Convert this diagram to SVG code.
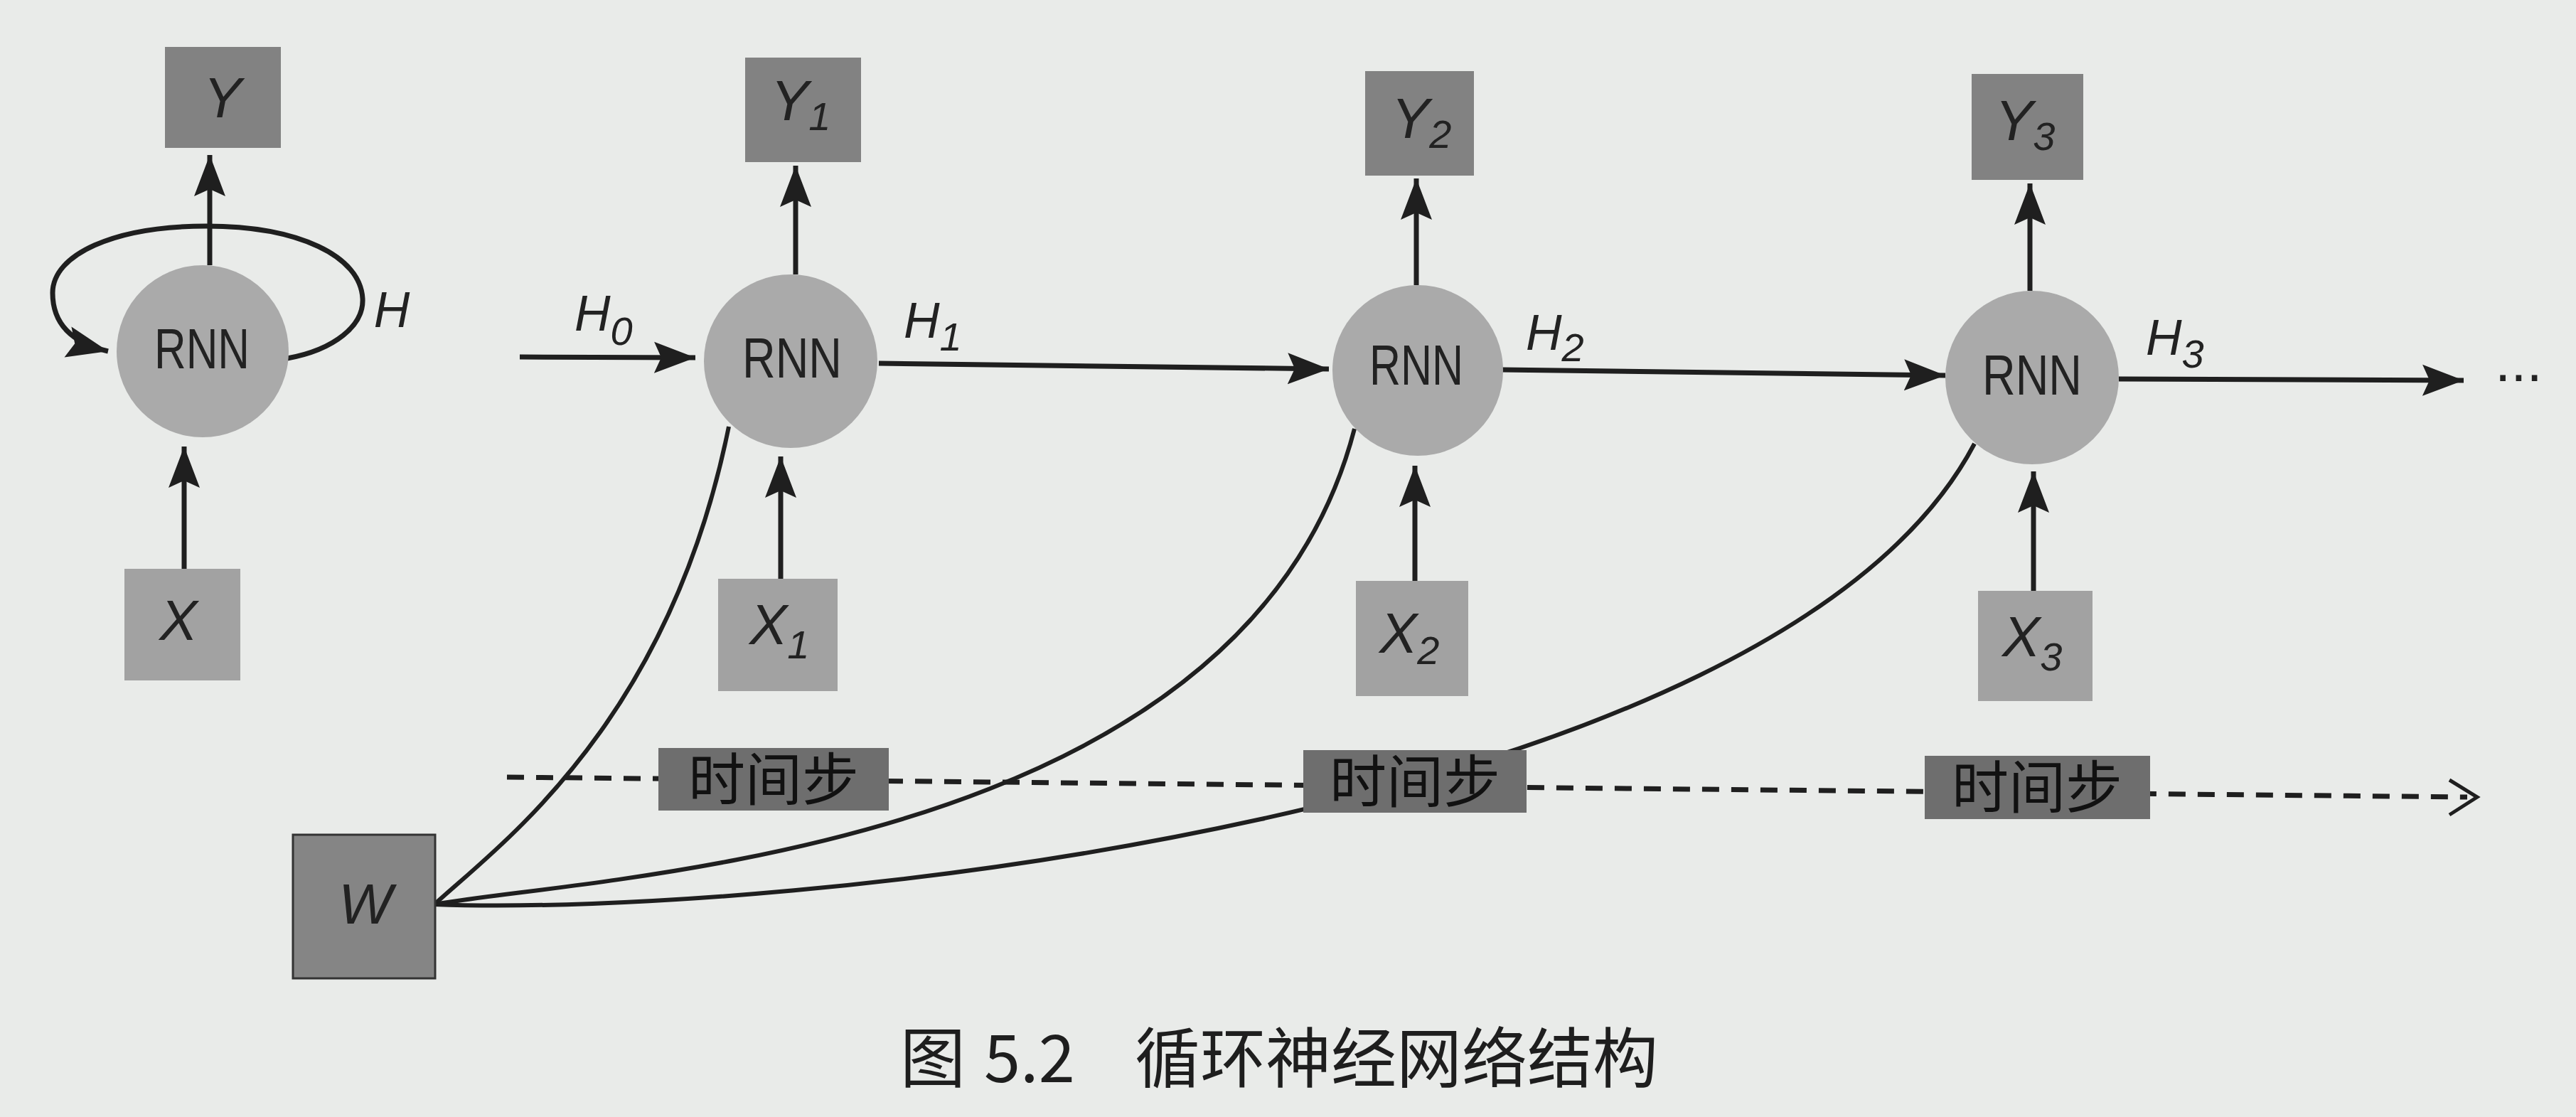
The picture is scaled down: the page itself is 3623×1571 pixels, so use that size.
<svg xmlns="http://www.w3.org/2000/svg" width="3623" height="1571" viewBox="0 0 3623 1571">
<style>
.lbl{font-family:"Liberation Sans",Arial,sans-serif;font-style:italic;fill:#222;font-size:80px}
.hl{font-family:"Liberation Sans",Arial,sans-serif;font-style:italic;fill:#222;font-size:70px}
.sub{font-size:56px}
.rnn{font-family:"Liberation Sans",Arial,sans-serif;fill:#222;font-size:80px}
.ybox{fill:#828282}
.xbox{fill:#a2a2a2}
.wbox{fill:#858585;stroke:#333;stroke-width:3}
.cell{fill:#aaaaaa}
.tbox{fill:#6e6e6e}
.tstep{font-family:"Noto Sans CJK SC","Noto Sans CJK JP",sans-serif;font-size:80px}
.cap{font-family:"Noto Sans CJK SC","Noto Sans CJK JP",sans-serif;fill:#1e1e1e;font-size:92px}
.ln{fill:none;stroke:#1f1f1f;stroke-width:7}
.cv{fill:none;stroke:#1f1f1f;stroke-width:6}
.dash{fill:none;stroke:#1f1f1f;stroke-width:7;stroke-dasharray:24 17}
</style>
<defs>
<marker id="ah" markerUnits="userSpaceOnUse" markerWidth="62" markerHeight="48" viewBox="0 0 62 48" refX="58" refY="24" orient="auto">
<path d="M0,2 L58,24 L0,46 L10,24 z" fill="#1f1f1f"/>
</marker>
</defs>
<rect x="0" y="0" width="3623" height="1571" fill="#e9ebe9"/>

<g id="connectors">
<path class="ln" d="M295,373 L295,218" marker-end="url(#ah)"/>
<path class="ln" d="M404,504 C470,492 512,458 510,420 C507,360 420,318 290,318 C160,318 74,358 74,412 C74,455 100,482 152,494" marker-end="url(#ah)"/>
<path class="ln" d="M259,800 L259,628" marker-end="url(#ah)"/>
<path class="ln" d="M731,502 L978,503" marker-end="url(#ah)"/>
<path class="ln" d="M1236,511 L1869,519" marker-end="url(#ah)"/>
<path class="ln" d="M2112,520 L2736,528" marker-end="url(#ah)"/>
<path class="ln" d="M2980,533 L3465,535" marker-end="url(#ah)"/>
<path class="ln" d="M1119,386 L1119,233" marker-end="url(#ah)"/>
<path class="ln" d="M1992,401 L1992,251" marker-end="url(#ah)"/>
<path class="ln" d="M2855,409 L2855,258" marker-end="url(#ah)"/>
<path class="ln" d="M1098,814 L1098,642" marker-end="url(#ah)"/>
<path class="ln" d="M1990,817 L1990,655" marker-end="url(#ah)"/>
<path class="ln" d="M2860,831 L2860,663" marker-end="url(#ah)"/>
<path class="dash" d="M713,1093 L3470,1121"/>
<path d="M3445,1097 L3484,1121 L3445,1146" fill="none" stroke="#1f1f1f" stroke-width="5"/>
<path class="cv" d="M611,1272 C700,1190 940,1020 1025,600"/>
<path class="cv" d="M611,1272 C850,1230 1750,1200 1905,603"/>
<path class="cv" d="M611,1272 C1100,1290 2500,1150 2777,624"/>
</g>

<g id="node-y">
<rect class="ybox" x="232" y="66" width="163" height="142"/>
<text class="lbl" x="313" y="165" text-anchor="middle">Y</text>
</g>
<g id="node-rnn">
<circle class="cell" cx="285" cy="494" r="121"/>
<text class="rnn" x="284" y="518" text-anchor="middle" textLength="134" lengthAdjust="spacingAndGlyphs">RNN</text>
</g>
<g id="label-h">
<text class="hl" x="551" y="460" text-anchor="middle">H</text>
</g>
<g id="node-x">
<rect class="xbox" x="175" y="800" width="163" height="157"/>
<text class="lbl" x="251" y="900" text-anchor="middle">X</text>
</g>

<g id="label-h0"><text class="hl" x="808" y="465">H<tspan class="sub" dy="20">0</tspan></text></g>
<g id="label-h1"><text class="hl" x="1271" y="475">H<tspan class="sub" dy="18">1</tspan></text></g>
<g id="label-h2"><text class="hl" x="2146" y="492">H<tspan class="sub" dy="16">2</tspan></text></g>
<g id="label-h3"><text class="hl" x="3018" y="499">H<tspan class="sub" dy="18">3</tspan></text></g>
<g id="label-more"><text class="rnn" x="3509" y="536" font-size="50">...</text></g>

<g id="node-y1">
<rect class="ybox" x="1048" y="81" width="163" height="147"/>
<text class="lbl" x="1084" y="169">Y<tspan class="sub" dy="14">1</tspan></text>
</g>
<g id="node-rnn1">
<circle class="cell" cx="1112" cy="508" r="122"/>
<text class="rnn" x="1114" y="531" text-anchor="middle" textLength="140" lengthAdjust="spacingAndGlyphs">RNN</text>
</g>
<g id="node-x1">
<rect class="xbox" x="1010" y="814" width="168" height="158"/>
<text class="lbl" x="1054" y="906">X<tspan class="sub" dy="20">1</tspan></text>
</g>

<g id="node-y2">
<rect class="ybox" x="1920" y="100" width="153" height="147"/>
<text class="lbl" x="1957" y="194">Y<tspan class="sub" dy="14">2</tspan></text>
</g>
<g id="node-rnn2">
<circle class="cell" cx="1994" cy="521" r="120"/>
<text class="rnn" x="1992" y="541" text-anchor="middle" textLength="132" lengthAdjust="spacingAndGlyphs">RNN</text>
</g>
<g id="node-x2">
<rect class="xbox" x="1907" y="817" width="158" height="162"/>
<text class="lbl" x="1940" y="918">X<tspan class="sub" dy="16">2</tspan></text>
</g>

<g id="node-y3">
<rect class="ybox" x="2773" y="104" width="157" height="149"/>
<text class="lbl" x="2806" y="197">Y<tspan class="sub" dy="14">3</tspan></text>
</g>
<g id="node-rnn3">
<circle class="cell" cx="2858" cy="531" r="122"/>
<text class="rnn" x="2858" y="555" text-anchor="middle" textLength="140" lengthAdjust="spacingAndGlyphs">RNN</text>
</g>
<g id="node-x3">
<rect class="xbox" x="2782" y="831" width="161" height="155"/>
<text class="lbl" x="2816" y="923">X<tspan class="sub" dy="20">3</tspan></text>
</g>

<g id="node-w">
<rect class="wbox" x="412" y="1174" width="200" height="202"/>
<text class="lbl" x="514" y="1299" text-anchor="middle">W</text>
</g>

<g id="step-1">
<rect class="tbox" x="926" y="1052" width="324" height="88"/>
<text class="tstep" x="1088" y="1125" text-anchor="middle" fill="#111111">时间步</text>
</g>
<g id="step-2">
<rect class="tbox" x="1833" y="1055" width="314" height="88"/>
<text class="tstep" x="1990" y="1128" text-anchor="middle" fill="#111111">时间步</text>
</g>
<g id="step-3">
<rect class="tbox" x="2707" y="1063" width="317" height="89"/>
<text class="tstep" x="2865" y="1136" text-anchor="middle" fill="#111111">时间步</text>
</g>

<g id="caption">
<text class="cap" x="1266" y="1522">图</text>
<text class="cap" x="1384" y="1522">5.2</text>
<text class="cap" x="1596" y="1522">循环神经网络结构</text>
</g>
</svg>
